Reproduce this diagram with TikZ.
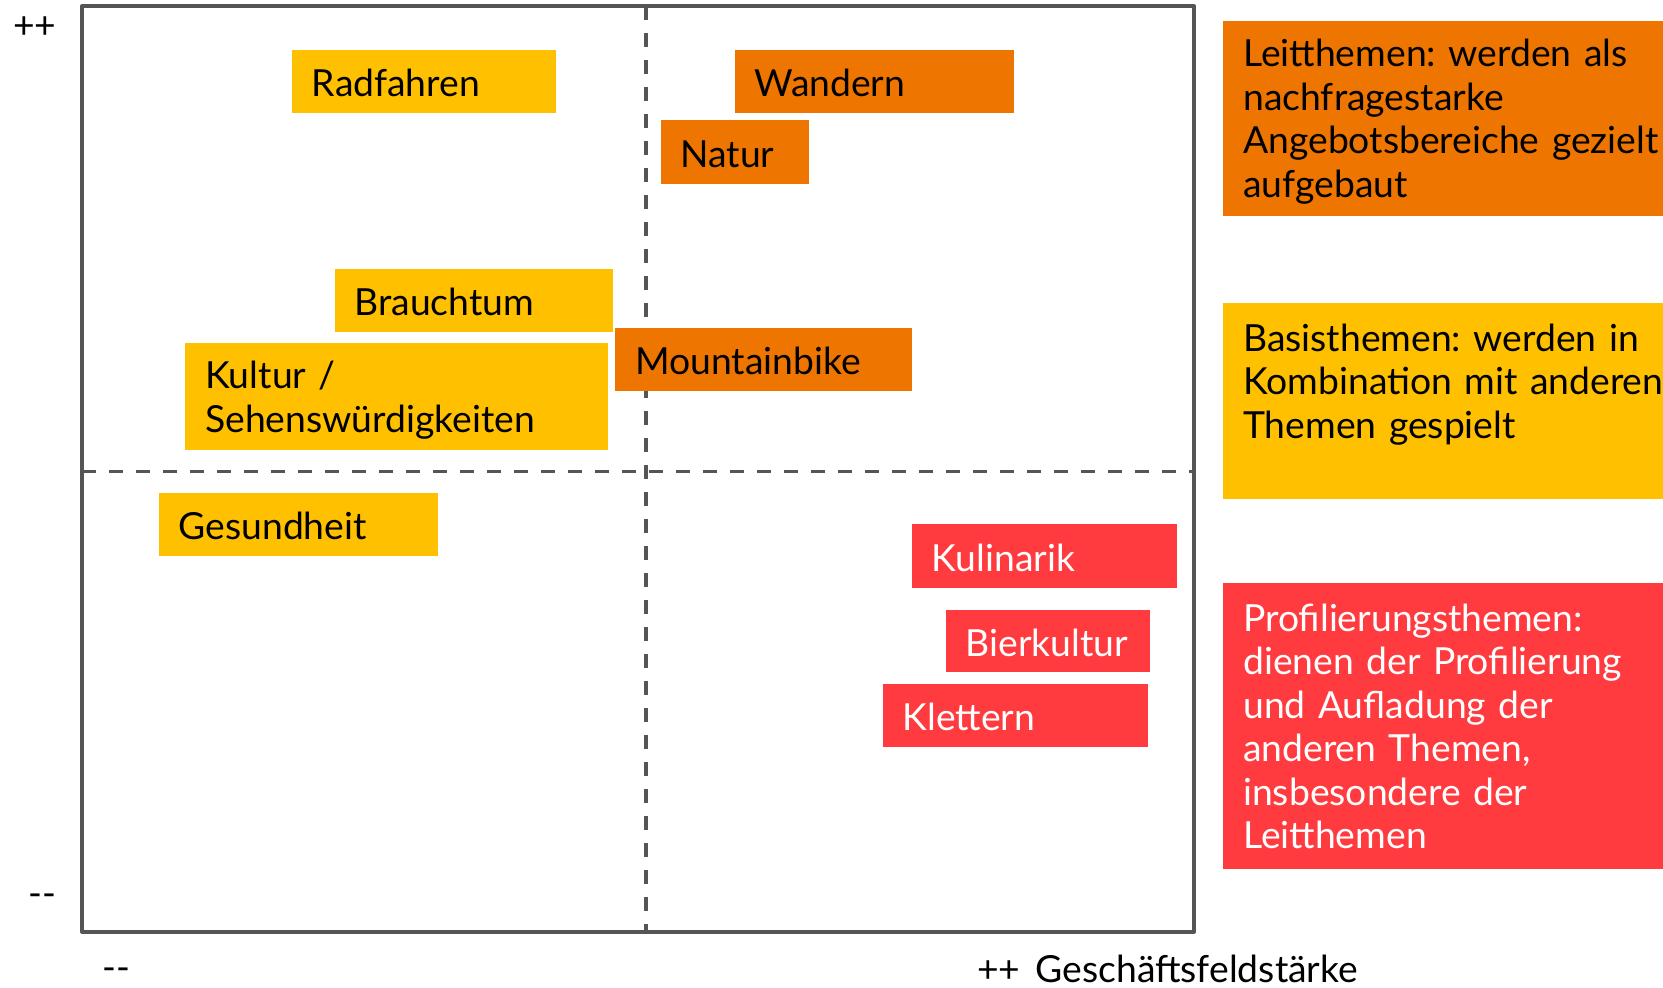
\documentclass[tikz,border=0pt]{standalone}
\usepackage{fontspec}
\setmainfont{Lato}
\frenchspacing
\definecolor{basisgelb}{HTML}{FFC000}
\definecolor{leitorange}{HTML}{EE7600}
\definecolor{profilrot}{HTML}{FF3B3F}
\definecolor{rahmengrau}{HTML}{555555}

\begin{document}
\begin{tikzpicture}[x=1pt,y=-1pt,
  every node/.style={font=\fontsize{37.3}{43.5}\selectfont, inner sep=0pt},
  % theme tag: box width (minus padding) and height
  tag/.style n args={2}{rectangle, anchor=north west, inner xsep=20pt,
    inner ysep=0pt, align=left, text width=#1, minimum height=#2,
    text height=31pt, text depth=0pt},
  leit/.style={fill=leitorange, text=black},
  basis/.style={fill=basisgelb, text=black},
  profil/.style={fill=profilrot, text=white},
  legendbox/.style={rectangle, anchor=north west, minimum width=440.3pt},
  legendtext/.style={anchor=base west, text width=600pt, align=left},
  frame/.style={draw=rahmengrau, line width=4pt, line join=round},
  divider/.style={draw=rahmengrau, line width=3.3pt, dash pattern=on 14pt off 13pt},
]
\useasboundingbox (0,0) rectangle (1663,988);

% portfolio frame and quadrant dividers
\coordinate (nw) at (82,6);
\coordinate (se) at (1194,931.5);
\coordinate (vtop) at (646,6);
\coordinate (vbot) at (646,931.5);
\coordinate (hleft) at (82,471.5);
\coordinate (hright) at (1194,471.5);
\draw[divider] (vtop) -- (vbot);
\draw[divider] (hleft) -- (hright);
\draw[frame] (nw) rectangle (se);

% axis marks
\node[anchor=base west] (yplus) at (13,38) {++};
\node[anchor=base west] (yminus) at (28,906) {-{}-};
\node[anchor=base west] (xminus) at (102,980) {-{}-};
\node[anchor=base west] (xplus) at (977,982) {++\hspace{15pt}Geschäftsfeldstärke};

% themes
\node[tag={224.1pt}{63.5pt}, basis] (radfahren) at (291.7,49.5) {Radfahren};
\node[tag={239pt}{63.5pt}, leit] (wandern) at (734.3,49.5) {Wandern};
\node[tag={108.4pt}{63.5pt}, leit] (natur) at (660.3,120) {Natur};
\node[tag={238.4pt}{63.5pt}, basis] (brauchtum) at (334.3,268.3) {Brauchtum};
\node[tag={382.7pt}{106.6pt}, basis, text depth=46pt] (kultur) at (185,342.7)
  {Kultur /\\Sehenswürdigkeiten};
\node[tag={256.7pt}{63pt}, leit] (mountainbike) at (615,327.3) {Mountainbike};
\node[tag={239pt}{63pt}, basis] (gesundheit) at (158.3,492.7) {Gesundheit};
\node[tag={224.6pt}{63.3pt}, profil] (kulinarik) at (911.7,524) {Kulinarik};
\node[tag={164.5pt}{62.8pt}, profil] (bierkultur) at (945.5,609.3) {Bierkultur};
\node[tag={225pt}{62.8pt}, profil] (klettern) at (882.5,683.5) {Klettern};

% legend
\node[legendbox, leit, minimum height=195.3pt] (leitbox) at (1222.7,20.7) {};
\node[legendtext] (leittext) at (1243,66.5)
  {Leitthemen: werden als\\nachfragestarke\\Angebotsbereiche gezielt\\aufgebaut};
\node[legendbox, basis, minimum height=196pt] (basisbox) at (1222.7,302.3) {};
\node[legendtext] (basistext) at (1243,351)
  {Basisthemen: werden in\\Kombination mit anderen\\Themen gespielt};
\node[legendbox, profil, minimum height=286pt] (profilbox) at (1222.7,582.3) {};
\node[legendtext, text=white] (profiltext) at (1243,631)
  {Profilierungsthemen:\\dienen der Profilierung\\und Aufladung der\\anderen Themen,\\insbesondere der\\Leitthemen};
\end{tikzpicture}
\end{document}
